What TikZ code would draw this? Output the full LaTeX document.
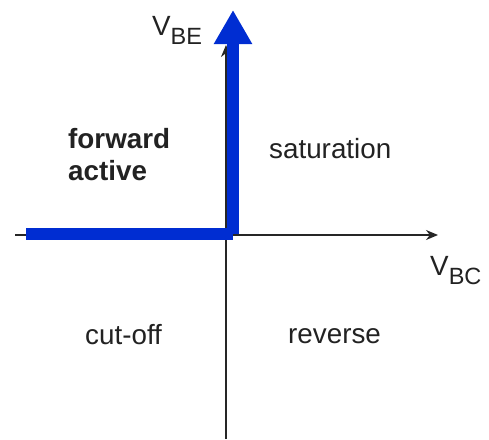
\documentclass[tikz,border=0pt]{standalone}
\usepackage{fontspec}
\setmainfont{Liberation Sans}
\usetikzlibrary{arrows.meta}

\definecolor{regionblue}{RGB}{0,45,210}
\definecolor{labelgray}{RGB}{34,34,34}

\newcommand{\voltsub}[2]{#1\raisebox{-9pt}{\fontsize{23.5}{23.5}\selectfont #2}}

\begin{document}
\begin{tikzpicture}[x=1pt,y=-1pt,
  axis/.style={-{Stealth[length=12pt,width=10pt]},line width=1.3pt,black!85},
  blueway/.style={line width=12pt,regionblue},
  lbl/.style={font=\fontsize{27.8}{32}\selectfont,text=labelgray,inner sep=0pt,anchor=base west}]
  \useasboundingbox (0,0) rectangle (489,439);

  % Axes
  \coordinate (west)  at (15,235);
  \coordinate (east)  at (438,235);
  \coordinate (south) at (226,439);
  \coordinate (north) at (226,45);
  \draw[axis] (west) -- (east);
  \draw[axis] (south) -- (north);

  % Blue path
  \coordinate (start)  at (26,233.5);
  \coordinate (corner) at (233,233.5);
  \coordinate (tip)    at (233,10);
  \draw[blueway] (start) -- (corner);
  \draw[blueway,-{Triangle[length=34pt,width=36pt]}] (corner) -- (tip);

  % Axis labels
  \node[lbl] (vbe) at (152,35)  {\voltsub{V}{BE}};
  \node[lbl] (vbc) at (430,275) {\voltsub{V}{BC}};

  % Regions
  \node[lbl,font=\bfseries\fontsize{27.8}{32}\selectfont,align=left] (fwd) at (68,180) {forward\\active};
  \node[lbl] (sat) at (269,158) {saturation};
  \node[lbl] (cut) at (85,344)  {cut-off};
  \node[lbl] (rev) at (288,343) {reverse};
\end{tikzpicture}
\end{document}
